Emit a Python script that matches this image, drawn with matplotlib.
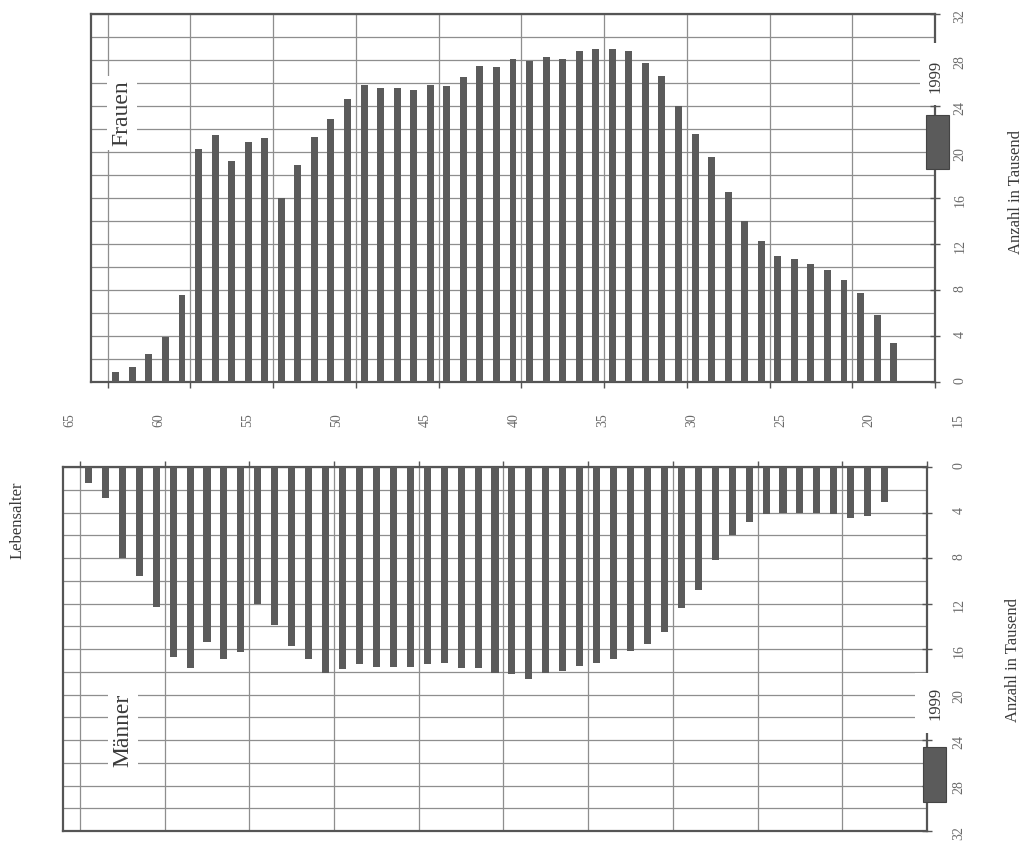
import matplotlib
matplotlib.use("Agg")
import matplotlib.pyplot as plt
import matplotlib.transforms as mtransforms
from matplotlib.patches import Rectangle

plt.rcParams["font.family"] = ["Liberation Serif", "DejaVu Serif"]

# Single-year age groups (left to right: oldest to youngest)
ages = list(range(64, 16, -1))

# Population 1999 in thousands
frauen = [0.9, 1.3, 2.4, 3.9, 7.6,
          20.3, 21.5, 19.2, 20.9, 21.2,
          16.0, 18.9, 21.3, 22.9, 24.6,
          25.8, 25.6, 25.6, 25.4, 25.8,
          25.7, 26.5, 27.5, 27.4, 28.1,
          27.9, 28.3, 28.1, 28.8, 29.0,
          29.0, 28.8, 27.7, 26.6, 24.0,
          21.6, 19.6, 16.5, 14.0, 12.3,
          11.0, 10.7, 10.3, 9.7, 8.9,
          7.7, 5.8, 3.4]
maenner = [1.4, 2.7, 8.0, 9.6, 12.3,
           16.7, 17.7, 15.4, 16.9, 16.3,
           12.0, 13.9, 15.7, 16.9, 18.1,
           17.8, 17.3, 17.6, 17.6, 17.6,
           17.3, 17.2, 17.7, 17.7, 18.1,
           18.2, 18.6, 18.1, 17.9, 17.5,
           17.2, 16.9, 16.2, 15.6, 14.5,
           12.4, 10.8, 8.2, 6.0, 4.8,
           4.15, 4.0, 4.0, 4.0, 4.1,
           4.5, 4.3, 3.05]

age_ticks = [65, 60, 55, 50, 45, 40, 35, 30, 25, 20, 15]
value_ticks = [0, 4, 8, 12, 16, 20, 24, 28, 32]
year_label = "1999"

BAR = "#5b5b5b"
GRID = "#8e8e8e"
SPINE = "#555555"
TEXT = "#3a3a3a"
TICKTXT = "#6a6a6a"

W, H = 1029, 841
fig = plt.figure(figsize=(W / 100, H / 100), dpi=100)


def px_axes(x0, y0, x1, y1):
    return fig.add_axes([x0 / W, 1 - y1 / H, (x1 - x0) / W, (y1 - y0) / H])


ax_f = px_axes(91, 14, 935, 382)
ax_m = px_axes(63, 467, 927, 831)

for ax, vals, pad in ((ax_f, frauen, 10), (ax_m, maenner, 15)):
    ax.bar([a + 0.5 for a in ages], vals, width=0.42, color=BAR, zorder=3)
    ax.set_xlim(66, 15)
    ax.set_xticks(age_ticks)
    ax.set_yticks(value_ticks)
    ax.set_yticks(range(0, 33, 2), minor=True)
    ax.set_yticklabels([str(v) for v in value_ticks])
    ax.grid(which="both", axis="y", color=GRID, lw=0.9, zorder=1)
    ax.grid(which="major", axis="x", color=GRID, lw=0.9, zorder=1)
    ax.set_axisbelow(True)
    ax.yaxis.tick_right()
    ax.tick_params(axis="y", which="major", direction="inout", length=7,
                   width=1, color=SPINE, pad=pad, labelrotation=90,
                   labelsize=10, labelcolor=TICKTXT)
    ax.tick_params(axis="y", which="minor", length=0)
    ax.tick_params(axis="x", which="major", direction="out", length=4,
                   width=1, color=SPINE, labelbottom=False, labeltop=False)
    for s in ax.spines.values():
        s.set_color(SPINE)
        s.set_linewidth(1.6)

ax_f.set_ylim(0, 32)
ax_m.set_ylim(32, 0)
ax_m.xaxis.tick_top()
ax_m.tick_params(axis="x", labeltop=False)

# Panel titles
ax_f.text(0.0367, 0.731, "Frauen", transform=ax_f.transAxes, rotation=90,
          ha="center", va="center", fontsize=17, color=TEXT, zorder=5,
          bbox=dict(fc="white", ec="none", pad=3))
ax_m.text(0.0695, 0.2775, "Männer", transform=ax_m.transAxes, rotation=90,
          ha="center", va="center", fontsize=17, color=TEXT, zorder=5,
          bbox=dict(fc="white", ec="none", pad=3))


def add_key(ax, cover_x, cover_y, patch_x, patch_y, text_x, text_y):
    tr = mtransforms.blended_transform_factory(ax.transAxes, ax.transData)
    ax.add_patch(Rectangle((cover_x[0], cover_y[0]), cover_x[1] - cover_x[0],
                           cover_y[1] - cover_y[0], transform=tr, fc="white",
                           ec="none", clip_on=False, zorder=6))
    ax.add_patch(Rectangle((patch_x[0], patch_y[0]), patch_x[1] - patch_x[0],
                           patch_y[1] - patch_y[0], transform=tr, fc=BAR,
                           ec="#444444", lw=0.8, clip_on=False, zorder=7))
    ax.text(text_x, text_y, year_label, transform=tr, rotation=90,
            ha="center", va="center", fontsize=12, color=TEXT,
            clip_on=False, zorder=8)


add_key(ax_f, (0.982, 1.018), (24.1, 29.5), (0.989, 1.0166), (18.5, 23.2),
        1.0, 26.6)
add_key(ax_m, (0.986, 1.024), (18.1, 23.4), (0.995, 1.022), (24.6, 29.45),
        1.010, 20.8)

# Shared age scale between the two panels
ax_age = px_axes(70, 419, 958, 421)
ax_age.set_xlim(65, 15)
ax_age.axis("off")
tr_age = ax_age.get_xaxis_transform()
for a in age_ticks:
    ax_age.text(a, 0.5, str(a), transform=tr_age, rotation=90, ha="center",
                va="center", fontsize=10, color=TICKTXT)

fig.text(18 / W, 1 - 520 / H, "Lebensalter", rotation=90, ha="center",
         va="center", fontsize=12, color=TEXT)
fig.text(1016 / W, 1 - 192 / H, "Anzahl in Tausend", rotation=90,
         ha="center", va="center", fontsize=12, color=TEXT)
fig.text(1013 / W, 1 - 660 / H, "Anzahl in Tausend", rotation=90,
         ha="center", va="center", fontsize=12, color=TEXT)

fig.savefig("out.png", dpi=100, facecolor="white")
